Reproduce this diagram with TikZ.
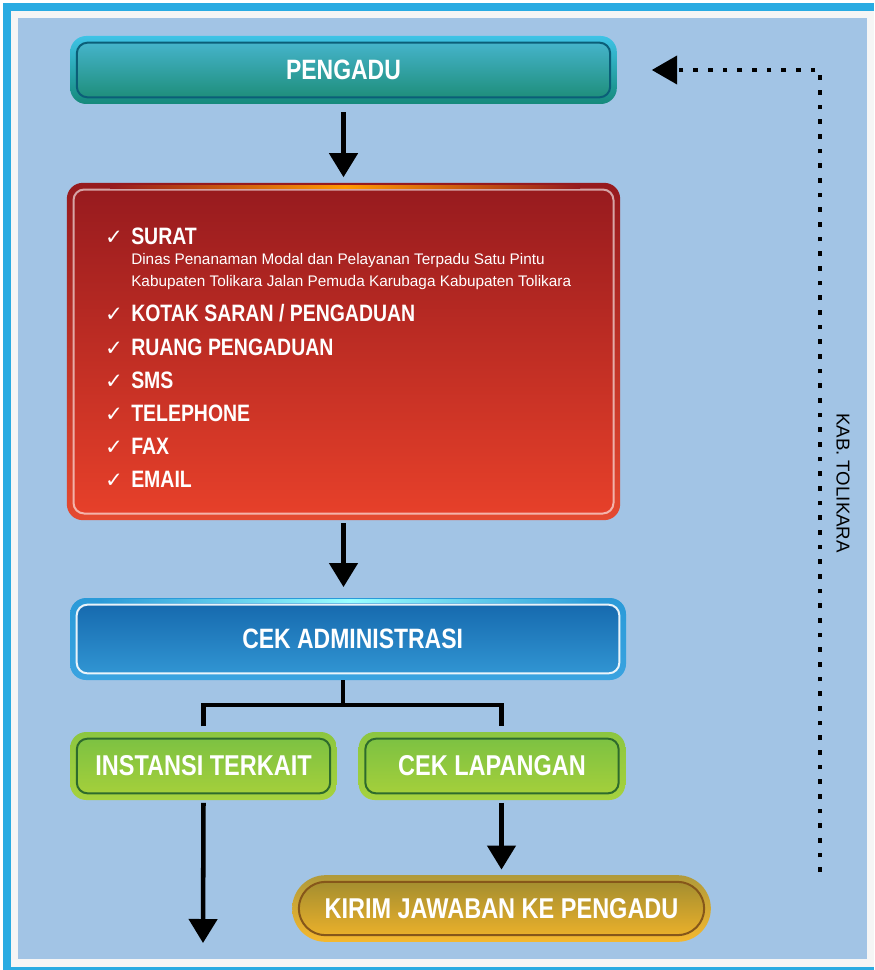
\documentclass[tikz,border=0pt]{standalone}
\usepackage{fontspec}
\setmainfont{Liberation Sans}
\newfontfamily\sempit{Liberation Sans}[FakeStretch=0.82]
\newfontfamily\simbol{DejaVu Sans}
\usetikzlibrary{arrows.meta}

\definecolor{bingkai}{HTML}{29ABE2}
\definecolor{langit}{HTML}{A2C4E5}
\definecolor{tealA}{HTML}{4AB8D4}
\definecolor{tealB}{HTML}{1A8A72}
\definecolor{tealRA}{HTML}{3EC3E6}
\definecolor{tealRB}{HTML}{15897A}
\definecolor{tealD}{HTML}{0B5E78}
\definecolor{merahA}{HTML}{961A1E}
\definecolor{merahB}{HTML}{E8412A}
\definecolor{merahRB}{HTML}{E54A30}
\definecolor{biruA}{HTML}{1466AB}
\definecolor{biruB}{HTML}{3399D6}
\definecolor{biruRA}{HTML}{2A9AD8}
\definecolor{biruRB}{HTML}{3AA3E0}
\definecolor{hijauA}{HTML}{78C043}
\definecolor{hijauB}{HTML}{A9D13A}
\definecolor{hijauRA}{HTML}{8CC63F}
\definecolor{hijauRB}{HTML}{A6D23E}
\definecolor{hijauD}{HTML}{2E6B2C}
\definecolor{emasA}{HTML}{9C8A30}
\definecolor{emasB}{HTML}{F2B42A}
\definecolor{emasRA}{HTML}{B09A3A}
\definecolor{emasRB}{HTML}{F5B82E}
\definecolor{emasD}{HTML}{86571A}

\begin{document}
\begin{tikzpicture}[x=0.75pt,y=-0.75pt,
	kotak/.style n args={6}{rounded corners=12pt, top color=#3, bottom color=#4,
		text=white, inner sep=0pt, font=\sempit\bfseries\fontsize{21}{24}\selectfont,
		path picture={\shadedraw[top color=#1, bottom color=#2, draw=#5, draw opacity=#6, line width=1.5pt, rounded corners=8pt]
			([shift={(5pt,-5pt)}]path picture bounding box.north west) rectangle
			([shift={(-5pt,5pt)}]path picture bounding box.south east);}},
	butir/.style={anchor=base west, inner sep=0pt, text=white, font=\sempit\bfseries\fontsize{17.8}{20}\selectfont},
	keterangan/.style={anchor=base west, inner sep=0pt, text=white, font=\fontsize{11.5}{14}\selectfont},
	centang/.style={anchor=base, inner sep=0pt, text=white, font=\simbol\fontsize{16}{18}\selectfont},
	panah/.style={line width=3.4pt, -{Triangle[width=21pt,length=18pt]}},
	garis/.style={line width=3.4pt},
	balik/.style={line width=3pt, dash pattern=on 3.5pt off 7.5pt, -{Triangle[width=21pt,length=19pt]}}]

	\useasboundingbox (0,0) rectangle (874,970);

	% frame and background
	\fill[white] (0,0) rectangle (874,970);
	\fill[bingkai] (3,3) rectangle (874,970);
	\fill[gray!8] (11,11) rectangle (874,967);
	\fill[langit] (18,18) rectangle (867,959);

	% boxes
	\node[kotak={tealA}{tealB}{tealRA}{tealRB}{tealD}{1}, minimum width=410pt, minimum height=51pt] (pengadu) at (343.5,70) {PENGADU};

	\node[kotak={merahA}{merahB}{merahA}{merahRB}{white}{0.6}, minimum width=415pt, minimum height=253pt] (saluran) at (343.5,351.5) {};
	\shade[left color=merahA, right color=merahA, middle color=orange!80!yellow] (110,185) rectangle (580,188.5);

	\node[kotak={biruA}{biruB}{biruRA}{biruRB}{white}{0.9}, minimum width=417pt, minimum height=61.5pt] (cekadm) at (348,639) {\hspace{7pt}CEK ADMINISTRASI};
	\shade[left color=biruRA, right color=biruRA, middle color=cyan!40] (100,599) rectangle (600,602);

	\node[kotak={hijauA}{hijauB}{hijauRA}{hijauRB}{hijauD}{1}, minimum width=200pt, minimum height=51pt, font=\sempit\bfseries\fontsize{21.5}{24}\selectfont] (instansi) at (203.5,766) {INSTANSI TERKAIT};
	\node[kotak={hijauA}{hijauB}{hijauRA}{hijauRB}{hijauD}{1}, minimum width=200pt, minimum height=51pt, font=\sempit\bfseries\fontsize{21.5}{24}\selectfont] (ceklap) at (492,766) {CEK LAPANGAN};

	\node[kotak={emasA}{emasB}{emasRA}{emasRB}{emasD}{1}, rounded corners=25pt, minimum width=314pt, minimum height=50pt,
		font=\sempit\bfseries\fontsize{21.5}{24}\selectfont,
		path picture={\shadedraw[top color=emasA, bottom color=emasB, draw=emasD, line width=1.5pt, rounded corners=20pt]
			([shift={(5pt,-5pt)}]path picture bounding box.north west) rectangle
			([shift={(-5pt,5pt)}]path picture bounding box.south east);}] (kirim) at (501.5,908.5) {KIRIM JAWABAN KE PENGADU};

	% list in the red box
	\foreach \y/\teks in {244/SURAT, 321/{KOTAK SARAN / PENGADUAN}, 355/RUANG PENGADUAN, 388/SMS, 421/TELEPHONE, 454/FAX, 487/EMAIL}
	{
		\node[centang] (c\y) at (114,\y) {✓};
		\node[butir] (b\y) at (131,\y) {\teks};
	}
	\node[keterangan] (alamat1) at (131,264) {Dinas Penanaman Modal dan Pelayanan Terpadu Satu Pintu};
	\node[keterangan] (alamat2) at (131,286) {Kabupaten Tolikara Jalan Pemuda Karubaga Kabupaten Tolikara};

	% connectors
	\draw[panah, shorten <=6pt, shorten >=4pt] (pengadu.south) -- (saluran.north -| pengadu.south);
	\draw[panah, shorten <=2pt, shorten >=8pt] (saluran.south) -- (cekadm.north -| saluran.south);

	\coordinate (cabang) at (343,705);
	\coordinate (kanan) at (ceklap.north -| kirim.north);
	\draw[garis] (cekadm.south -| cabang) -- (cabang);
	\draw[garis] ([yshift=4pt]instansi.north) |- (cabang) -| ([yshift=4pt]kanan);

	\coordinate (bawah) at (203,943);
	\draw[panah, shorten <=2pt] (instansi.south) -- (bawah);
	\draw[panah, shorten <=2pt, shorten >=4pt] (ceklap.south -| kirim.north) -- (kirim.north);

	% feedback line
	\coordinate (ujung) at (820,872);
	\draw[balik] (ujung) |- ([xshift=26pt]pengadu.east);
	\node[rotate=-90, inner sep=0pt, font=\fontsize{14}{16}\selectfont] (kab) at (843,483) {KAB. TOLIKARA};

\end{tikzpicture}
\end{document}
